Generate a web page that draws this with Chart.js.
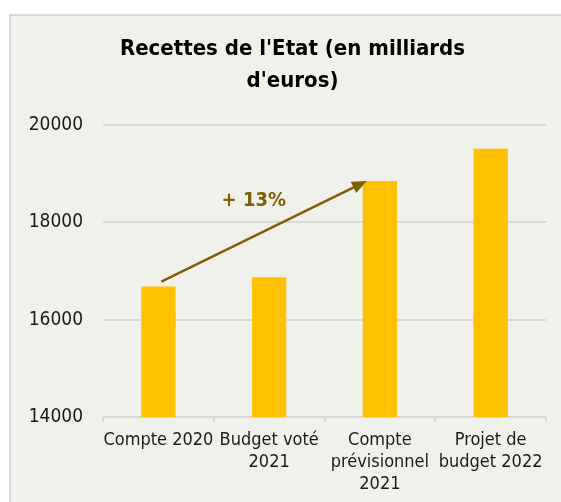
<!DOCTYPE html>
<html lang="fr">
<head>
    <meta charset="UTF-8">
    <title>Recettes de l'Etat</title>
    <style>
        body {
            margin: 0;
            background: #ffffff;
            width: 561px;
            height: 502px;
            overflow: hidden;
            position: relative;
        }
        .panel {
            position: absolute;
            left: 9px;
            top: 14px;
            width: 600px;
            height: 600px;
            background: #f1f1ec;
            border: 2px solid #d9d9d9;
        }
        #chart {
            position: absolute;
            left: 0;
            top: 0;
        }
    </style>
</head>
<body>
    <div class="panel"></div>
    <canvas id="chart" width="561" height="502"></canvas>

    <script src="https://cdn.jsdelivr.net/npm/chart.js"></script>
    <script>
        const categories = [
            'Compte 2020',
            ['Budget voté', '2021'],
            ['Compte', 'prévisionnel', '2021'],
            ['Projet de', 'budget 2022']
        ];
        const recettes = [16680, 16870, 18850, 19510];
        const yTicks = [14000, 16000, 18000, 20000];
        const titleLines = ["Recettes de l'Etat (en milliards", "d'euros)"];

        const FONT = '"DejaVu Sans Condensed", "DejaVu Sans", sans-serif';
        const ARROW = '#7f6000';

        // title drawn by hand: it sits a bit right of the canvas centre
        const titlePlugin = {
            id: 'sideTitle',
            afterDraw(chart) {
                const ctx = chart.ctx;
                ctx.save();
                ctx.font = 'bold 22px ' + FONT;
                ctx.fillStyle = '#000000';
                ctx.textAlign = 'center';
                ctx.textBaseline = 'middle';
                titleLines.forEach((line, i) => {
                    ctx.fillText(line, chart.width / 2 + 12, 49 + i * 32);
                });
                ctx.restore();
            }
        };

        // arrow from Compte 2020 to Compte prévisionnel 2021, with the growth label
        const arrowPlugin = {
            id: 'growthArrow',
            afterDatasetsDraw(chart) {
                const ctx = chart.ctx;
                const bars = chart.getDatasetMeta(0).data;
                const y = chart.scales.y;
                const x0 = bars[0].x + 3;
                const y0 = y.getPixelForValue(recettes[0]) - 5;
                const x1 = bars[2].x - bars[2].width / 2 + 4;
                const y1 = y.getPixelForValue(recettes[2]);
                const ang = Math.atan2(y1 - y0, x1 - x0);
                const head = 16;

                ctx.save();
                ctx.strokeStyle = ARROW;
                ctx.fillStyle = ARROW;
                ctx.lineWidth = 2.5;
                ctx.beginPath();
                ctx.moveTo(x0, y0);
                ctx.lineTo(x1 - Math.cos(ang) * head * 0.8, y1 - Math.sin(ang) * head * 0.8);
                ctx.stroke();
                ctx.beginPath();
                ctx.moveTo(x1, y1);
                ctx.lineTo(x1 - head * Math.cos(ang - 0.4), y1 - head * Math.sin(ang - 0.4));
                ctx.lineTo(x1 - head * Math.cos(ang + 0.4), y1 - head * Math.sin(ang + 0.4));
                ctx.closePath();
                ctx.fill();

                const pct = Math.round((recettes[2] / recettes[0] - 1) * 100);
                const t = 0.45;
                ctx.font = 'bold 20px ' + FONT;
                ctx.textAlign = 'center';
                ctx.textBaseline = 'middle';
                ctx.fillText('+ ' + pct + '%', x0 + (x1 - x0) * t, y0 + (y1 - y0) * t - 36);
                ctx.restore();
            }
        };

        new Chart(document.getElementById('chart'), {
            type: 'bar',
            data: {
                labels: categories,
                datasets: [{
                    data: recettes,
                    backgroundColor: '#ffc000',
                    barPercentage: 0.31,
                    categoryPercentage: 1
                }]
            },
            options: {
                responsive: false,
                animation: false,
                layout: { padding: { left: 15, right: 15, top: 125, bottom: 0 } },
                plugins: {
                    legend: { display: false },
                    tooltip: { enabled: false },
                    title: { display: false }
                },
                scales: {
                    x: {
                        grid: {
                            display: true,
                            drawOnChartArea: false,
                            drawTicks: true,
                            tickLength: 5,
                            color: '#d9d9d9',
                            lineWidth: 2
                        },
                        border: { display: true, color: '#d9d9d9', width: 2 },
                        ticks: {
                            color: '#1a1a1a',
                            maxRotation: 0,
                            autoSkip: false,
                            padding: 7,
                            font: { family: FONT, size: 18, lineHeight: 1.22 }
                        },
                        afterFit(scale) { scale.height = 85; }
                    },
                    y: {
                        min: yTicks[0],
                        max: yTicks[yTicks.length - 1],
                        afterBuildTicks(scale) { scale.ticks = yTicks.map(v => ({ value: v })); },
                        grid: { color: '#d9d9d9', lineWidth: 2, drawTicks: false },
                        border: { display: false },
                        ticks: {
                            color: '#1a1a1a',
                            padding: 20,
                            font: { family: FONT, size: 19 },
                            callback: (v) => String(v)
                        },
                        afterFit(scale) { scale.width = 88; }
                    }
                }
            },
            plugins: [arrowPlugin, titlePlugin]
        });
    </script>
</body>
</html>
